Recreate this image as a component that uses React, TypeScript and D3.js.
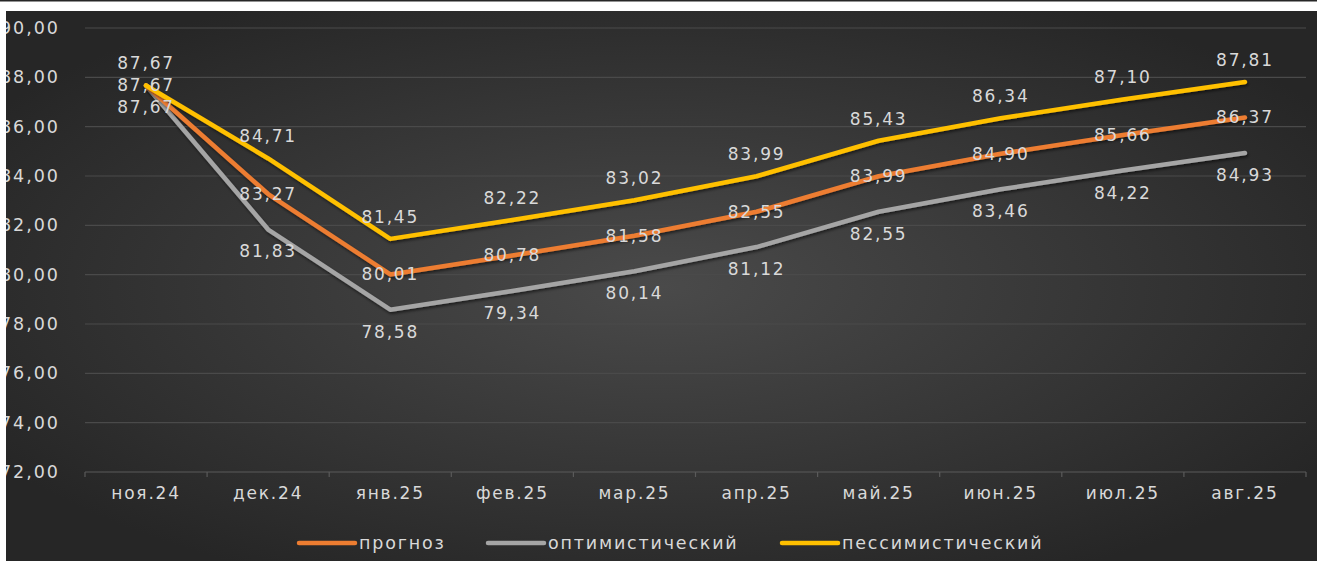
import React from "react";
import * as d3 from "d3";

const categories = ["ноя.24", "дек.24", "янв.25", "фев.25", "мар.25", "апр.25", "май.25", "июн.25", "июл.25", "авг.25"];
const forecast = [87.67, 83.27, 80.01, 80.78, 81.58, 82.55, 83.99, 84.9, 85.66, 86.37];
const optimistic = [87.67, 81.83, 78.58, 79.34, 80.14, 81.12, 82.55, 83.46, 84.22, 84.93];
const pessimistic = [87.67, 84.71, 81.45, 82.22, 83.02, 83.99, 85.43, 86.34, 87.1, 87.81];
const yTicks = [72, 74, 76, 78, 80, 82, 84, 86, 88, 90];
const seriesNames = ["прогноз", "оптимистический", "пессимистический"];

const W = 1317;
const H = 561;
const FONT = "'DejaVu Sans', Verdana, sans-serif";

export default function App() {
  const x = d3.scaleBand<string>().domain(categories).range([85, 1306]).padding(0);
  const y = d3.scaleLinear().domain([72, 90]).range([472, 28]);
  const cx = (c: string) => (x(c) as number) + x.bandwidth() / 2;
  const fmt = (v: number) => v.toFixed(2).replace(".", ",");

  const series = [
    { name: seriesNames[0], values: forecast, color: "#ED7D31", labelDy: 0 },
    { name: seriesNames[1], values: optimistic, color: "#A5A5A5", labelDy: 22 },
    { name: seriesNames[2], values: pessimistic, color: "#FFC000", labelDy: -22 },
  ];
  const drawOrder = [series[1], series[0], series[2]];

  const line = d3
    .line<number>()
    .x((_, i) => cx(categories[i]))
    .y((d) => y(d));

  const legendX = [297, 486, 780];

  return (
    <svg
      width={W}
      height={H}
      style={{ position: "absolute", left: 0, top: 0, display: "block" }}
      fontFamily={FONT}
    >
      <defs>
        <radialGradient id="bg" cx="50%" cy="50%" r="60%">
          <stop offset="0%" stopColor="#4a4a4a" />
          <stop offset="100%" stopColor="#262626" />
        </radialGradient>
        <filter id="sh" x="-5%" y="-5%" width="110%" height="120%">
          <feDropShadow dx="1" dy="2" stdDeviation="1.5" floodColor="#000" floodOpacity="0.55" />
        </filter>
      </defs>
      <rect x={0} y={0} width={W} height={H} fill="#ffffff" />
      <rect x={6} y={11} width={W - 6} height={H - 11} fill="url(#bg)" />

      {/* gridlines */}
      {yTicks.map((t) => (
        <line
          key={t}
          x1={85}
          x2={1306}
          y1={y(t)}
          y2={y(t)}
          stroke={t === 72 ? "#5a5a5a" : "#4a4a4a"}
          strokeWidth={1.2}
        />
      ))}
      {/* category tick marks */}
      {[...categories.map((c) => x(c) as number), 1306].map((tx, i) => (
        <line key={i} x1={tx} x2={tx} y1={y(72)} y2={y(72) + 5} stroke="#5a5a5a" strokeWidth={1.2} />
      ))}

      {/* y labels */}
      {yTicks.map((t) => (
        <text
          key={t}
          x={60}
          y={y(t)}
          dy="0.35em"
          textAnchor="end"
          fontSize={17.5}
          letterSpacing={2}
          fill="#d9d9d9"
        >
          {fmt(t)}
        </text>
      ))}

      {/* x labels */}
      {categories.map((c) => (
        <text
          key={c}
          x={cx(c)}
          y={493}
          dy="0.35em"
          textAnchor="middle"
          fontSize={17}
          letterSpacing={1.8}
          fill="#d9d9d9"
        >
          {c}
        </text>
      ))}

      {/* lines */}
      {drawOrder.map((s) => (
        <path
          key={s.name}
          d={line(s.values) || ""}
          fill="none"
          stroke={s.color}
          strokeWidth={4.5}
          strokeLinecap="round"
          strokeLinejoin="round"
          filter="url(#sh)"
        />
      ))}

      {/* data labels */}
      {series.map((s) =>
        s.values.map((v, i) => (
          <text
            key={s.name + i}
            x={cx(categories[i])}
            y={y(v) + s.labelDy}
            dy="0.35em"
            textAnchor="middle"
            fontSize={17}
            letterSpacing={1.8}
            fill="#d9d9d9"
          >
            {fmt(v)}
          </text>
        ))
      )}

      {/* legend */}
      {series.map((s, i) => (
        <g key={s.name} transform={`translate(${legendX[i]},543)`}>
          <line x1={2} x2={58} y1={0} y2={0} stroke={s.color} strokeWidth={4.5} strokeLinecap="round" />
          <text x={62} y={0} dy="0.35em" fontSize={17.5} letterSpacing={1.8} fill="#d9d9d9">
            {s.name}
          </text>
        </g>
      ))}

      {/* left strip over clipped labels & top line */}
      <rect x={0} y={0} width={6} height={H} fill="#ffffff" />
      <rect x={0} y={0} width={W} height={1.5} fill="#262626" />
    </svg>
  );
}
